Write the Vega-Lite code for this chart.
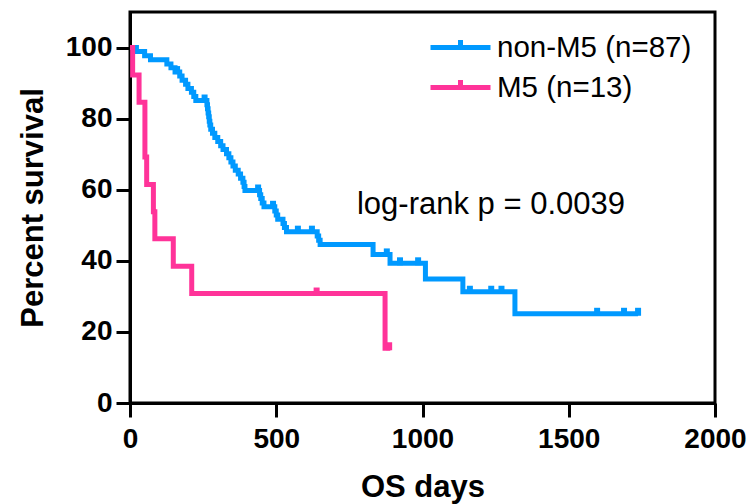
{
  "$schema": "https://vega.github.io/schema/vega-lite/v6.json",
  "autosize": "none",
  "width": 585,
  "height": 391,
  "padding": {"left": 130, "top": 12, "right": 34, "bottom": 101},
  "background": "white",
  "config": {
    "font": "Liberation Sans",
    "view": {"stroke": "black", "strokeWidth": 3},
    "axis": {
      "grid": false,
      "domainColor": "black",
      "domainWidth": 3,
      "tickColor": "black",
      "tickWidth": 3,
      "tickSize": 14,
      "labelFontSize": 28,
      "labelFontWeight": "bold",
      "labelColor": "black",
      "titleFontSize": 31,
      "titleFontWeight": "bold",
      "titleColor": "black"
    }
  },
  "datasets": {
    "curves": [
      {"group": "non-M5 (n=87)", "day": 0, "surv": 100},
      {"group": "non-M5 (n=87)", "day": 22, "surv": 98.9},
      {"group": "non-M5 (n=87)", "day": 50, "surv": 97.7},
      {"group": "non-M5 (n=87)", "day": 70, "surv": 96.6},
      {"group": "non-M5 (n=87)", "day": 126, "surv": 95.4},
      {"group": "non-M5 (n=87)", "day": 140, "surv": 94.3},
      {"group": "non-M5 (n=87)", "day": 154, "surv": 93.1},
      {"group": "non-M5 (n=87)", "day": 170, "surv": 92.0},
      {"group": "non-M5 (n=87)", "day": 178, "surv": 90.8},
      {"group": "non-M5 (n=87)", "day": 190, "surv": 89.7},
      {"group": "non-M5 (n=87)", "day": 198, "surv": 88.5},
      {"group": "non-M5 (n=87)", "day": 210, "surv": 87.4},
      {"group": "non-M5 (n=87)", "day": 218, "surv": 86.2},
      {"group": "non-M5 (n=87)", "day": 225, "surv": 85.1},
      {"group": "non-M5 (n=87)", "day": 263, "surv": 83.9},
      {"group": "non-M5 (n=87)", "day": 265, "surv": 82.8},
      {"group": "non-M5 (n=87)", "day": 267, "surv": 81.6},
      {"group": "non-M5 (n=87)", "day": 269, "surv": 80.5},
      {"group": "non-M5 (n=87)", "day": 271, "surv": 79.3},
      {"group": "non-M5 (n=87)", "day": 273, "surv": 78.2},
      {"group": "non-M5 (n=87)", "day": 276, "surv": 77.0},
      {"group": "non-M5 (n=87)", "day": 282, "surv": 75.9},
      {"group": "non-M5 (n=87)", "day": 290, "surv": 74.7},
      {"group": "non-M5 (n=87)", "day": 300, "surv": 73.6},
      {"group": "non-M5 (n=87)", "day": 310, "surv": 72.4},
      {"group": "non-M5 (n=87)", "day": 318, "surv": 71.3},
      {"group": "non-M5 (n=87)", "day": 330, "surv": 70.1},
      {"group": "non-M5 (n=87)", "day": 338, "surv": 69.0},
      {"group": "non-M5 (n=87)", "day": 345, "surv": 67.8},
      {"group": "non-M5 (n=87)", "day": 352, "surv": 66.7},
      {"group": "non-M5 (n=87)", "day": 360, "surv": 65.5},
      {"group": "non-M5 (n=87)", "day": 370, "surv": 64.4},
      {"group": "non-M5 (n=87)", "day": 378, "surv": 63.2},
      {"group": "non-M5 (n=87)", "day": 386, "surv": 62.1},
      {"group": "non-M5 (n=87)", "day": 390, "surv": 60.9},
      {"group": "non-M5 (n=87)", "day": 393, "surv": 59.8},
      {"group": "non-M5 (n=87)", "day": 443, "surv": 58.6},
      {"group": "non-M5 (n=87)", "day": 447, "surv": 57.5},
      {"group": "non-M5 (n=87)", "day": 452, "surv": 56.3},
      {"group": "non-M5 (n=87)", "day": 458, "surv": 55.2},
      {"group": "non-M5 (n=87)", "day": 495, "surv": 54.0},
      {"group": "non-M5 (n=87)", "day": 500, "surv": 52.9},
      {"group": "non-M5 (n=87)", "day": 505, "surv": 51.7},
      {"group": "non-M5 (n=87)", "day": 523, "surv": 50.5},
      {"group": "non-M5 (n=87)", "day": 528, "surv": 49.4},
      {"group": "non-M5 (n=87)", "day": 535, "surv": 48.2},
      {"group": "non-M5 (n=87)", "day": 640, "surv": 47.0},
      {"group": "non-M5 (n=87)", "day": 645, "surv": 45.8},
      {"group": "non-M5 (n=87)", "day": 650, "surv": 44.6},
      {"group": "non-M5 (n=87)", "day": 831, "surv": 41.8},
      {"group": "non-M5 (n=87)", "day": 889, "surv": 39.3},
      {"group": "non-M5 (n=87)", "day": 1010, "surv": 34.9},
      {"group": "non-M5 (n=87)", "day": 1138, "surv": 31.3},
      {"group": "non-M5 (n=87)", "day": 1316, "surv": 25.1},
      {"group": "non-M5 (n=87)", "day": 1737, "surv": 25.1},
      {"group": "M5 (n=13)", "day": 0, "surv": 100},
      {"group": "M5 (n=13)", "day": 9, "surv": 92.3},
      {"group": "M5 (n=13)", "day": 31, "surv": 84.6},
      {"group": "M5 (n=13)", "day": 51, "surv": 69.2},
      {"group": "M5 (n=13)", "day": 57, "surv": 61.5},
      {"group": "M5 (n=13)", "day": 80, "surv": 53.8},
      {"group": "M5 (n=13)", "day": 85, "surv": 46.2},
      {"group": "M5 (n=13)", "day": 148, "surv": 38.5},
      {"group": "M5 (n=13)", "day": 211, "surv": 30.8},
      {"group": "M5 (n=13)", "day": 872, "surv": 15.4},
      {"group": "M5 (n=13)", "day": 890, "surv": 15.4}
    ],
    "censored": [
      {"group": "non-M5 (n=87)", "day": 161, "surv": 93.1},
      {"group": "non-M5 (n=87)", "day": 255, "surv": 85.1},
      {"group": "non-M5 (n=87)", "day": 438, "surv": 59.8},
      {"group": "non-M5 (n=87)", "day": 489, "surv": 55.2},
      {"group": "non-M5 (n=87)", "day": 574, "surv": 48.2},
      {"group": "non-M5 (n=87)", "day": 622, "surv": 48.2},
      {"group": "non-M5 (n=87)", "day": 878, "surv": 41.8},
      {"group": "non-M5 (n=87)", "day": 923, "surv": 39.3},
      {"group": "non-M5 (n=87)", "day": 985, "surv": 39.3},
      {"group": "non-M5 (n=87)", "day": 1162, "surv": 31.3},
      {"group": "non-M5 (n=87)", "day": 1235, "surv": 31.3},
      {"group": "non-M5 (n=87)", "day": 1270, "surv": 31.3},
      {"group": "non-M5 (n=87)", "day": 1597, "surv": 25.1},
      {"group": "non-M5 (n=87)", "day": 1689, "surv": 25.1},
      {"group": "non-M5 (n=87)", "day": 1737, "surv": 25.1},
      {"group": "M5 (n=13)", "day": 638, "surv": 30.8},
      {"group": "M5 (n=13)", "day": 886, "surv": 15.4}
    ]
  },
  "layer": [
    {
      "data": {"name": "curves"},
      "mark": {"type": "line", "interpolate": "step-after", "strokeWidth": 5},
      "encoding": {
        "x": {
          "field": "day", "type": "quantitative",
          "scale": {"domain": [0, 2000], "nice": false},
          "axis": {"values": [0, 500, 1000, 1500, 2000], "format": "d", "title": "OS days", "labelPadding": 8, "labelFlush": false, "titleX": 292.5, "titleY": 93, "titleBaseline": "alphabetic"}
        },
        "y": {
          "field": "surv", "type": "quantitative",
          "scale": {"domain": [0, 110], "nice": false},
          "axis": {"values": [0, 20, 40, 60, 80, 100], "format": "d", "title": "Percent survival", "labelPadding": 4, "titleX": -88, "titleY": 195.5, "titleBaseline": "alphabetic"}
        },
        "color": {
          "field": "group", "type": "nominal",
          "scale": {"domain": ["non-M5 (n=87)", "M5 (n=13)"], "range": ["#0099ff", "#ff3399"]},
          "legend": {
            "title": null,
            "orient": "none",
            "legendX": 313,
            "legendY": 18,
            "symbolType": "M-2,0L2,0M0,0L0,-0.5",
            "symbolSize": 900,
            "symbolStrokeWidth": 5,
            "labelFontSize": 29.5,
            "labelColor": "black",
            "labelOffset": 19,
            "rowPadding": 8,
            "labelLimit": 400
          }
        },
        "detail": {"field": "group"}
      }
    },
    {
      "data": {"name": "censored"},
      "mark": {"type": "tick", "orient": "vertical", "thickness": 6, "size": 8, "yOffset": -2, "opacity": 1},
      "encoding": {
        "x": {"field": "day", "type": "quantitative"},
        "y": {"field": "surv", "type": "quantitative"},
        "color": {"field": "group", "type": "nominal", "legend": null}
      }
    },
    {
      "data": {"values": [{"label": "log-rank p = 0.0039"}]},
      "mark": {"type": "text", "align": "left", "baseline": "middle", "fontSize": 31, "color": "black"},
      "encoding": {
        "x": {"datum": 776, "type": "quantitative"},
        "y": {"datum": 55.8, "type": "quantitative"},
        "text": {"field": "label"}
      }
    }
  ],
  "resolve": {"legend": {"color": "independent"}}
}
